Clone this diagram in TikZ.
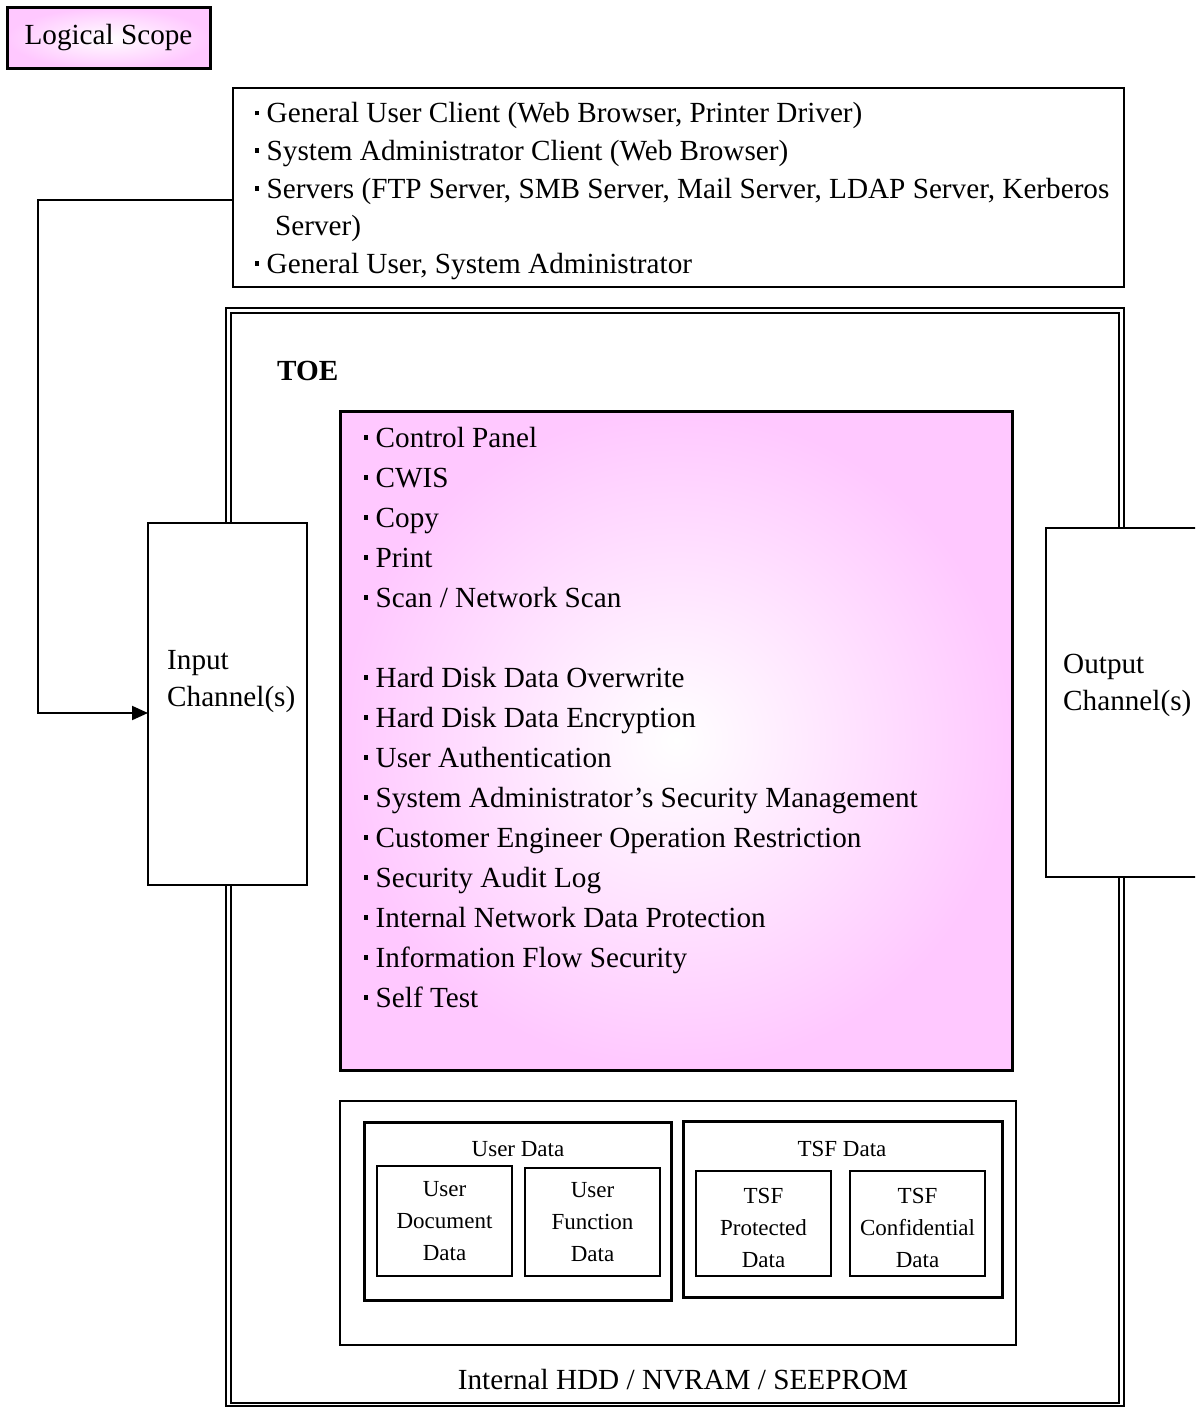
\documentclass[tikz,border=0pt]{standalone}
\usepackage{fontspec}
\setmainfont{Liberation Serif}
\usetikzlibrary{arrows.meta,fit}
\definecolor{mypink}{RGB}{255,200,255}
\newcommand\bul{\makebox[11.5pt][l]{\rule[7.5pt]{4.2pt}{4.5pt}}}
\newcommand\mainfs{\fontsize{29.2}{37.5}\selectfont}
\newcommand\smallfs{\fontsize{23}{32}\selectfont}
\begin{document}
\begin{tikzpicture}[x=1pt,y=-1pt,
  thinbox/.style={draw, line width=1.5pt, inner sep=0pt, outer sep=0pt},
  thickbox/.style={draw, line width=3pt, inner sep=0pt, outer sep=0pt},
  txtline/.style={inner sep=0pt, anchor=base west, font=\mainfs},
  smalltxt/.style={inner sep=0pt, font=\smallfs, align=center},
  pinkshade/.style={inner color=white, outer color=mypink},
  conn/.style={line width=2pt, -{Triangle[length=16pt,width=14pt]}}]
\clip (0,0) rectangle (1195,1407);
\fill[white] (0,0) rectangle (1195,1407);

% Logical scope label
\node[thickbox, pinkshade, fit={(7,8) (210,69)}] (ls) {};
\node[inner sep=0pt, anchor=base, font=\mainfs] (lstxt) at (108.5,45) {Logical Scope};

% external entities box
\node[thinbox, fill=white, fit={(233,88) (1124,287)}] (clients) {};
\node[txtline] (c1) at (255,123) {\bul General User Client (Web Browser, Printer Driver)};
\node[txtline] (c2) at (255,160.5) {\bul System Administrator Client (Web Browser)};
\node[txtline] (c3) at (255,198) {\bul Servers (FTP Server, SMB Server, Mail Server, LDAP Server, Kerberos};
\node[txtline] (c4) at (275,235.5) {Server)};
\node[txtline] (c5) at (255,273) {\bul General User, System Administrator};

% TOE double border
\node[draw, line width=2.2pt, inner sep=0pt, outer sep=0pt, fit={(226,308) (1124,1406)}] (toeout) {};
\node[draw, line width=1.6pt, inner sep=0pt, outer sep=0pt, fit={(231,313) (1119,1403)}] (toein) {};
\node[txtline, font=\mainfs\bfseries] (toe) at (277,380) {TOE};

% functions box
\node[thickbox, pinkshade, fit={(340,411) (1012,1070)}] (funcs) {};
\foreach \t [count=\i] in {Control Panel, CWIS, Copy, Print, Scan / Network Scan}
  \node[txtline] (fa\i) at (364,{447+40*(\i-1)}) {\bul \t};
\foreach \t [count=\i] in {Hard Disk Data Overwrite, Hard Disk Data Encryption, User Authentication, System Administrator’s Security Management, Customer Engineer Operation Restriction, Security Audit Log, Internal Network Data Protection, Information Flow Security, Self Test}
  \node[txtline] (fb\i) at (364,{687+40*(\i-1)}) {\bul \t};

% channels
\node[thinbox, fill=white, fit={(148,523) (307,885)}] (inch) {};
\node[txtline] (in1) at (167,669) {Input};
\node[txtline] (in2) at (167,706) {Channel(s)};
\node[thinbox, fill=white, fit={(1046,528) (1230,877)}] (outch) {};
\node[txtline] (out1) at (1063,673) {Output};
\node[txtline] (out2) at (1063,710) {Channel(s)};

% storage
\node[thinbox, fit={(340,1101) (1016,1345)}] (stor) {};
\node[inner sep=0pt, anchor=base, font=\mainfs] (stortxt) at (683,1389) {Internal HDD / NVRAM / SEEPROM};

\node[thickbox, fit={(364,1122) (671,1300)}] (ud) {};
\node[inner sep=0pt, anchor=base, font=\smallfs] (udtxt) at (518,1156) {User Data};
\node[thinbox, smalltxt, fit={(377,1166) (512,1276)}] (udd) {};
\node[smalltxt] at (udd.center) {User\\Document\\Data};
\node[thinbox, smalltxt, fit={(525,1168) (660,1276)}] (ufd) {};
\node[smalltxt] at (ufd.center) {User\\Function\\Data};

\node[thickbox, fit={(683,1121) (1002,1297)}] (tsf) {};
\node[inner sep=0pt, anchor=base, font=\smallfs] (tsftxt) at (842,1156) {TSF Data};
\node[thinbox, fit={(696,1171) (831,1276)}] (tpd) {};
\node[smalltxt] at ([yshift=-4pt]tpd.center) {TSF\\Protected\\Data};
\node[thinbox, fit={(850,1171) (985,1276)}] (tcd) {};
\node[smalltxt] at ([yshift=-4pt]tcd.center) {TSF\\Confidential\\Data};

% connector
\coordinate (bend) at (38,200);
\draw[conn] ([yshift=-12.5pt]clients.west) -- (bend) |- ([yshift=-9pt]inch.west);
\end{tikzpicture}
\end{document}
